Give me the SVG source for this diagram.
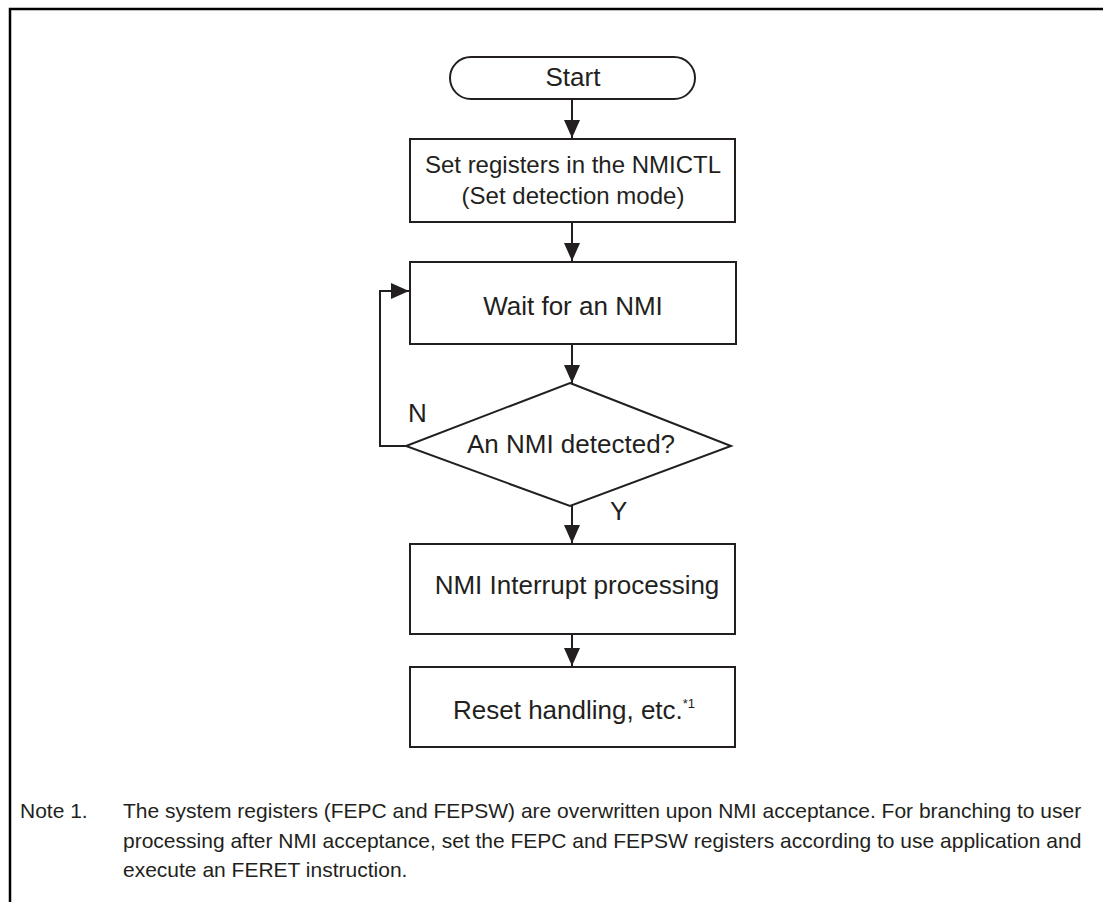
<svg xmlns="http://www.w3.org/2000/svg" width="1103" height="902" viewBox="0 0 1103 902">
  <style>
    .shape { fill: #ffffff; stroke: #231f20; stroke-width: 2; }
    .wire { fill: none; stroke: #231f20; stroke-width: 2; }
    .lbl { font-family: "Liberation Sans", Arial, sans-serif; font-size: 26px; fill: #231f20; }
    .lbl-sm { font-family: "Liberation Sans", Arial, sans-serif; font-size: 24px; fill: #231f20; }
    .sup { font-family: "Liberation Sans", Arial, sans-serif; font-size: 13px; fill: #231f20; }
    .note { font-family: "Liberation Sans", Arial, sans-serif; font-size: 21px; fill: #231f20; }
    .mid { text-anchor: middle; }
  </style>
  <defs>
    <marker id="arrow" viewBox="0 0 18 16" refX="18" refY="8" markerWidth="18" markerHeight="16" markerUnits="userSpaceOnUse" orient="auto">
      <path d="M0,0 L18,8 L0,16 Z" fill="#231f20"/>
    </marker>
  </defs>

  <rect width="1103" height="902" fill="#ffffff"/>

  <!-- frame (top and left rules) -->
  <path d="M10,902 V9 H1103" fill="none" stroke="#000000" stroke-width="2.5"/>

  <!-- connectors -->
  <g id="connectors">
    <line class="wire" x1="572" y1="99" x2="572" y2="138" marker-end="url(#arrow)"/>
    <line class="wire" x1="572" y1="222" x2="572" y2="261" marker-end="url(#arrow)"/>
    <line class="wire" x1="572" y1="344" x2="572" y2="383" marker-end="url(#arrow)"/>
    <line class="wire" x1="572" y1="506" x2="572" y2="543" marker-end="url(#arrow)"/>
    <line class="wire" x1="572" y1="634" x2="572" y2="666" marker-end="url(#arrow)"/>
    <polyline class="wire" points="406,446 380,446 380,291 409,291" marker-end="url(#arrow)"/>
    <text class="lbl" x="408" y="422">N</text>
    <text class="lbl" x="610" y="520">Y</text>
  </g>

  <g id="start">
    <rect class="shape" x="450" y="57" width="245" height="42" rx="21" ry="21"/>
    <text class="lbl mid" x="573" y="86">Start</text>
  </g>

  <g id="set-registers">
    <rect class="shape" x="410" y="139" width="325" height="83"/>
    <text class="lbl-sm mid" x="573" y="173">Set registers in the NMICTL</text>
    <text class="lbl-sm mid" x="573" y="204">(Set detection mode)</text>
  </g>

  <g id="wait-nmi">
    <rect class="shape" x="410" y="262" width="326" height="82"/>
    <text class="lbl mid" x="573" y="315">Wait for an NMI</text>
  </g>

  <g id="nmi-detected">
    <polygon class="shape" points="570,383 731,446 570,506 406,446"/>
    <text class="lbl mid" x="571" y="453">An NMI detected?</text>
  </g>

  <g id="interrupt-processing">
    <rect class="shape" x="410" y="544" width="325" height="90"/>
    <text class="lbl mid" x="577" y="594">NMI Interrupt processing</text>
  </g>

  <g id="reset-handling">
    <rect class="shape" x="410" y="667" width="325" height="80"/>
    <text class="lbl" x="453" y="719">Reset handling, etc.<tspan class="sup" dy="-11">*1</tspan></text>
  </g>

  <g id="note">
    <text class="note" x="20" y="818">Note 1.</text>
    <text class="note" x="123" y="818">The system registers (FEPC and FEPSW) are overwritten upon NMI acceptance. For branching to user</text>
    <text class="note" x="123" y="848">processing after NMI acceptance, set the FEPC and FEPSW registers according to use application and</text>
    <text class="note" x="123" y="877">execute an FERET instruction.</text>
  </g>
</svg>
